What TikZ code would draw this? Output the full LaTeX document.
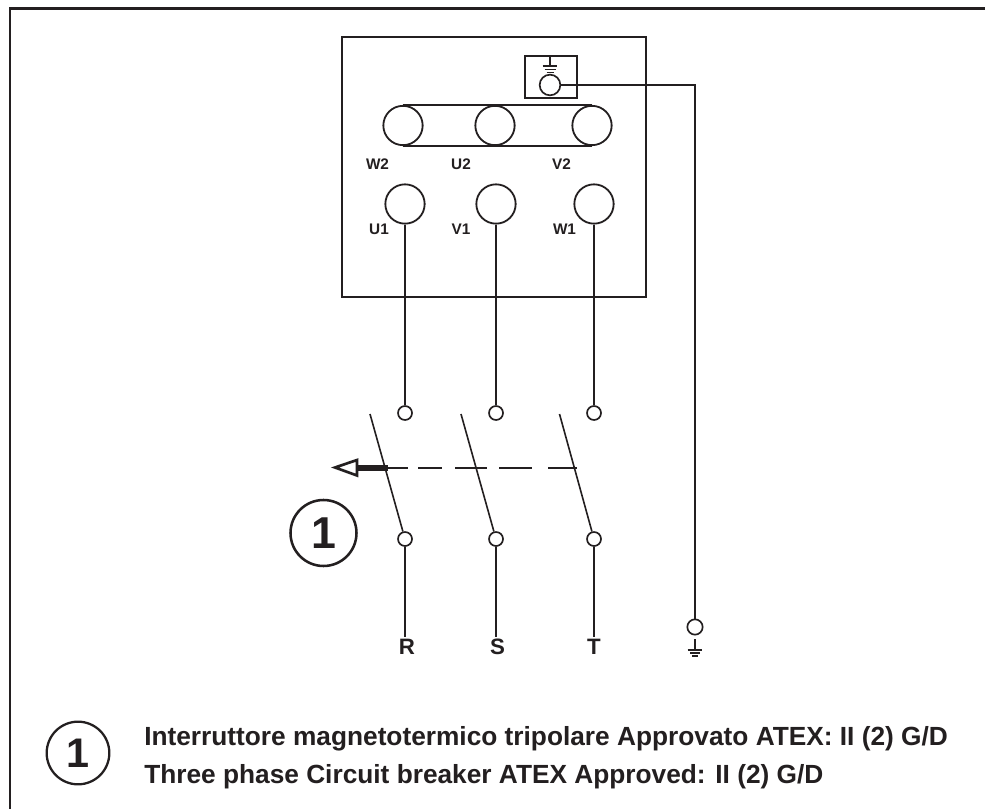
\documentclass[tikz,border=0pt]{standalone}
\usepackage{fontspec}
\setmainfont{Liberation Sans}
\definecolor{ink}{HTML}{231F20}
\tikzset{
  x=0.75pt,y=-0.75pt,
  wire/.style={draw=ink,line width=1.5pt},
  thin wire/.style={draw=ink,line width=1.35pt},
  term/.style={circle,draw=ink,fill=white,line width=1.35pt,minimum size=29.5pt,inner sep=0pt},
  smallterm/.style={circle,draw=ink,fill=white,line width=1.25pt,minimum size=10.5pt,inner sep=0pt},
  lbl/.style={font=\bfseries\fontsize{11.5}{13}\selectfont,text=ink,inner sep=0pt,anchor=center},
  phase/.style={font=\bfseries\fontsize{16.7}{18}\selectfont,text=ink,inner sep=1.5pt,anchor=center},
  legend/.style={font=\bfseries\fontsize{19.7}{22}\selectfont,text=ink,inner sep=0pt,anchor=base west},
  badge/.style={circle,draw=ink,line width=1.9pt,minimum size=49.5pt,inner sep=0pt,text=ink,font=\bfseries\fontsize{33.5}{36}\selectfont},
}
\begin{document}
\begin{tikzpicture}
\useasboundingbox (0,0) rectangle (985,809);
\fill[white] (0,0) rectangle (985,809);
% frame
\coordinate (fa) at (10,809);
\coordinate (fb) at (10,8.5);
\coordinate (fc) at (985,8.5);
\draw[draw=ink,line width=2.2pt] (fa) -- (fb) -- (fc);
% box
\node[draw=ink,line width=1.5pt,minimum width=228pt,minimum height=195pt,inner sep=0pt,anchor=north west] (box) at (341,36.5) {};
% earth box
\node[draw=ink,line width=1.5pt,minimum width=39pt,minimum height=32pt,inner sep=0pt] (ebox) at (550.5,77) {};
\node[smallterm,minimum size=15.5pt] (eterm) at (550,85) {};
\coordinate (etop) at (550,56);
\coordinate (ebar) at (550,66);
\draw[thin wire] (etop) -- (ebar);
\draw[thin wire] ([xshift=-5.6pt]ebar) -- ([xshift=5.6pt]ebar);
\draw[draw=ink,line width=1pt] (544.5,69.5) -- (555.5,69.5);
\draw[draw=ink,line width=1pt] (546.5,72.5) -- (553.5,72.5);
% bridge
\node[term] (w2) at (403,125.5) {};
\node[term] (u2) at (495,125.5) {};
\node[term] (v2) at (592,125.5) {};
\draw[wire] (w2.north) -- (v2.north);
\draw[wire] (w2.south) -- (v2.south);
\node[lbl] at (377.5,164) {W2};
\node[lbl] at (461,164) {U2};
\node[lbl] at (561.5,164) {V2};
% terminals
\node[term] (u1) at (405,204) {};
\node[term] (v1) at (496,204) {};
\node[term] (w1) at (594,204) {};
\node[lbl] at (379,229) {U1};
\node[lbl] at (461,229) {V1};
\node[lbl] at (564.5,229) {W1};
% upper switch contacts
\node[smallterm] (a1) at (405,413) {};
\node[smallterm] (a2) at (496,413) {};
\node[smallterm] (a3) at (594,413) {};
\draw[thin wire] (u1) -- (a1);
\draw[thin wire] (v1) -- (a2);
\draw[thin wire] (w1) -- (a3);
% lower contacts
\node[smallterm] (b1) at (405,539) {};
\node[smallterm] (b2) at (496,539) {};
\node[smallterm] (b3) at (594,539) {};
\coordinate (t1) at (370,414);
\coordinate (t2) at (461,414);
\coordinate (t3) at (559.5,414);
\draw[thin wire,line width=1.2pt] (t1) -- (b1);
\draw[thin wire,line width=1.2pt] (t2) -- (b2);
\draw[thin wire,line width=1.2pt] (t3) -- (b3);
% phases
\node[phase] (r) at (407,647) {R};
\node[phase] (s) at (497.5,647) {S};
\node[phase] (t) at (594,647) {T};
\draw[thin wire] (b1) -- (b1 |- r.north);
\draw[thin wire] (b2) -- (b2 |- s.north);
\draw[thin wire] (b3) -- (t);
% mechanical link
\coordinate (m1) at (388,468);
\coordinate (m3) at (577,468);
\coordinate (ah) at (356,468);
\draw[draw=ink,line width=1.2pt,dash pattern=on 15pt off 7.5pt on 18pt off 9.75pt on 24pt off 9pt on 24.75pt off 12pt on 21.75pt] (m1) -- (m3);
\draw[draw=ink,line width=3.8pt] (m1) -- (ah);
\draw[draw=ink,line width=2pt,fill=white,line join=miter] (357,460) -- (335,467.5) -- (357,475.5) -- cycle;
% badge
\node[badge] (bd) at (323.5,533) {1};
% earth
\node[smallterm,minimum size=11.5pt] (gt) at (695,627) {};
\draw[thin wire] (eterm) -- (695,85) -- (gt);
\coordinate (gbar) at (695,650);
\draw[thin wire] (695,639) -- (gbar);
\draw[thin wire] ([xshift=-5.6pt]gbar) -- ([xshift=5.6pt]gbar);
\draw[draw=ink,line width=1pt] (690,653) -- (700,653);
\draw[draw=ink,line width=1pt] (692,656) -- (698,656);
% legend
\node[badge,minimum size=47pt,line width=1.7pt,font=\bfseries\fontsize{31}{33}\selectfont] (ld) at (78,753) {1};
\node[legend] at (144,745) {Interruttore magnetotermico tripolare Approvato ATEX: II (2) G/D};
\node[legend] at (144,783) {Three phase Circuit breaker ATEX Approved: II (2) G/D};
\end{tikzpicture}
\end{document}
